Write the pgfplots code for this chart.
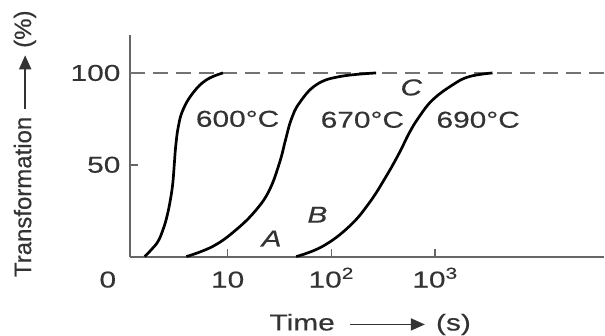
\documentclass[border=0pt]{standalone}
\usepackage{pgfplots}
\pgfplotsset{compat=1.18}
\usepackage{fontspec}
\setmainfont[FakeStretch=1.3,FakeBold=0.4]{Liberation Sans}
\newfontfamily\ylfont[FakeBold=0.4]{Liberation Sans}
\usetikzlibrary{arrows.meta}
\begin{document}
\begin{tikzpicture}
\begin{axis}[
  scale only axis, width=237.5pt, height=111pt,
  xmin=0.0577, xmax=4.625, ymin=0, ymax=120.7,
  axis x line=bottom, axis y line=left,
  axis line style={-, draw=black!60, line width=1pt},
  xtick={1,2,3}, xticklabels={10,10\textsuperscript{2},10\textsuperscript{3}},
  ytick={50,100}, yticklabels={50,100},
  tick align=inside, major tick length=4pt,
  tick style={draw=black!60, line width=0.8pt},
  xticklabel style={anchor=base, yshift=-15.5pt, inner sep=0pt},
  yticklabel style={anchor=east, xshift=-4.5pt, inner sep=0pt},
  font=\fontsize{11.5}{13}\selectfont,
  ticklabel style={text=black!80},
  clip=false,
]
\addplot[black!55, line width=0.9pt, dash pattern=on 7.5pt off 4pt] coordinates {(0.0577,100) (4.625,100)};
\addplot[black, line width=1.35pt, smooth, tension=0.7] coordinates {
(0.202,0) (0.266,3.8) (0.330,8.3) (0.378,14.7) (0.416,21.9) (0.449,31) (0.472,40) (0.486,50) (0.500,60) (0.525,70.7) (0.570,79.9) (0.666,89.1) (0.795,96.2) (0.955,100)};
\addplot[black, line width=1.35pt, smooth, tension=0.7] coordinates {
(0.603,0) (0.859,5.6) (1.084,14.7) (1.276,25.5) (1.404,36.4) (1.5,51.1) (1.558,63.6) (1.612,74.5) (1.692,83.7) (1.853,93.5) (2.077,98) (2.43,100)};
\addplot[black, line width=1.35pt, smooth, tension=0.7] coordinates {
(1.661,0) (1.916,5.6) (2.173,16.5) (2.365,29.3) (2.526,43.6) (2.654,56.5) (2.75,67.4) (2.846,76.2) (2.974,85.3) (3.167,93.5) (3.327,98) (3.551,100)};
\node[text=black!80] at (axis cs:1.096,75) {600°C};
\node[text=black!80] at (axis cs:2.298,74.5) {670°C};
\node[text=black!80] at (axis cs:3.413,74.5) {690°C};
\node[text=black!80] at (axis cs:2.769,92.1) {\itshape C};
\node[text=black!80] at (axis cs:1.423,9.8) {\itshape A};
\node[text=black!80] at (axis cs:1.865,22.8) {\itshape B};
\node[anchor=base, inner sep=0pt, yshift=-15.5pt, text=black!80] at (axis cs:-0.154,0) {0};
\coordinate (yl) at (rel axis cs:0,0.5);
\coordinate (xl) at (rel axis cs:0.507,0);
\end{axis}
\node[rotate=90, inner sep=0pt, text=black!80, font=\ylfont\fontsize{12}{14}\selectfont] at ([xshift=-52.5pt, yshift=1pt]yl)
  {Transformation \tikz[baseline=-3pt]\draw[line width=0.9pt, -{Triangle[length=7pt,width=6pt]}] (0,0)--(27pt,0); (\%)};
\node[anchor=base, inner sep=0pt, text=black!80, font=\fontsize{11.5}{13}\selectfont] at ([yshift=-37pt]xl)
  {Time\hspace{3pt} \tikz[baseline=-3pt]\draw[line width=0.9pt, -{Triangle[length=7pt,width=6pt]}] (0,0)--(37.5pt,0);\hspace{1pt} (s)};
\path ([xshift=-65pt,yshift=-38.5pt]current axis.south west) rectangle ([yshift=17.5pt]current axis.north east);
\end{tikzpicture}
\end{document}
